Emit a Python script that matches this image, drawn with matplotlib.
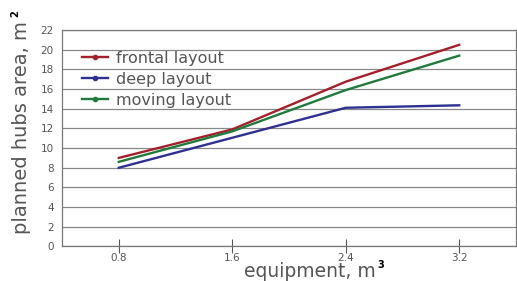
import matplotlib
matplotlib.use('Agg')
import matplotlib.pyplot as plt

# data
equipment = [0.8, 1.6, 2.4, 3.2]
frontal = [9.0, 11.9, 16.75, 20.5]
deep = [8.0, 11.05, 14.1, 14.35]
moving = [8.6, 11.7, 15.9, 19.4]
x_ticks = [0.8, 1.6, 2.4, 3.2]
y_ticks = list(range(0, 23, 2))

gray = '#555555'
plt.rcParams['font.family'] = ['DejaVu Sans']

W, H = 517, 281
fig = plt.figure(figsize=(W / 100, H / 100), dpi=100)
ax = fig.add_axes([0.12, 0.123, 0.878, 0.770])

ax.plot(equipment, frontal, color='#A3202A', lw=1.7, label='frontal layout')
ax.plot(equipment, deep, color='#2E3192', lw=1.7, label='deep layout')
ax.plot(equipment, moving, color='#1F7A3C', lw=1.7, label='moving layout')

ax.set_xlim(0.4, 3.6)
ax.set_ylim(0, 22)
ax.set_xticks(x_ticks)
ax.set_xticklabels([str(v) for v in x_ticks])
ax.set_yticks(y_ticks)
ax.grid(axis='y', color='#888888', lw=0.9)
ax.set_axisbelow(True)
ax.tick_params(axis='x', direction='inout', length=10, width=0.8, color=gray,
               labelsize=7.5, labelcolor=gray, pad=0)
ax.tick_params(axis='y', length=0, labelsize=7.5, labelcolor=gray, pad=6)
for s in ax.spines.values():
    s.set_color('#777777')
    s.set_linewidth(0.9)

ax.set_xlabel('equipment, m', fontsize=13.5, color=gray)
ax.set_ylabel('planned hubs area, m', fontsize=14, color=gray)
ax.xaxis.set_label_coords(0.546, -0.072)
ax.yaxis.set_label_coords(-0.068, 0.55)

# bold superscripts next to the axis labels (pixel -> figure fraction)
fig.canvas.draw()
r = fig.canvas.get_renderer()
xb = ax.xaxis.label.get_window_extent(r)
yb = ax.yaxis.label.get_window_extent(r)
fig.text((xb.x1 + 2) / W, (xb.y1 - 3) / H, '3', fontsize=7, fontweight='bold',
         color='black', ha='left', va='center')
fig.text((yb.x0 + 3) / W, (yb.y1 + 4) / H, '2', fontsize=7, fontweight='bold',
         color='black', ha='center', va='bottom', rotation=90)

leg = ax.legend(loc='upper left', bbox_to_anchor=(0.03, 0.935), frameon=False,
                fontsize=11.5, handlelength=1.6, handletextpad=0.5,
                labelspacing=0.38, labelcolor=gray, borderaxespad=0)
for h in leg.legend_handles:
    h.set_marker('o')
    h.set_markersize(3)
    h.set_markevery([1])

fig.savefig('out.png', dpi=100)
